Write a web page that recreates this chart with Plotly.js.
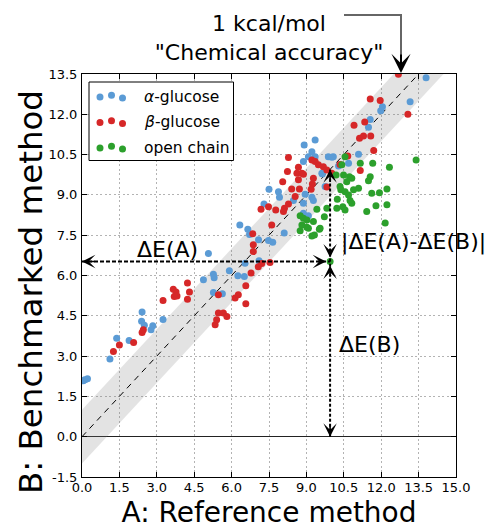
<!DOCTYPE html>
<html>
<head>
<meta charset="utf-8">
<script src="https://cdn.plot.ly/plotly-3.0.1.min.js"></script>
<style>html,body{margin:0;padding:0;background:#fff;}#chart{width:488px;height:529px;}</style>
</head>
<body>
<div id="chart"></div>
<script>
// ---- data (kcal/mol) ----
const alphaX = [0.05,0.12,0.22,1.12,1.39,1.89,2.41,2.39,2.50,2.77,2.84,3.25,4.87,5.07,5.27,5.30,5.27,5.63,5.91,6.25,6.51,6.54,7.10,6.33,6.65,6.72,7.08,7.48,7.65,7.30,7.50,7.88,7.92,8.48,8.88,8.95,9.22,9.28,8.88,8.11,9.08,8.91,9.35,9.22,8.88,9.08,9.35,9.88,10.08,9.64,9.75,9.62,10.29,10.69,11.09,10.02,11.49,11.56,11.98,12.05,13.16,13.80];
const alphaY = [2.08,2.12,2.16,2.89,3.66,3.58,4.64,4.30,4.15,3.98,4.13,4.36,5.84,6.82,6.05,5.92,5.37,5.32,6.18,5.99,5.96,6.46,6.55,7.88,7.72,7.53,7.33,7.30,7.24,8.66,9.21,9.12,8.91,8.79,8.69,9.02,8.91,8.79,8.32,7.58,8.22,10.86,11.04,10.61,10.24,10.42,10.42,10.42,10.42,9.78,9.31,9.81,10.08,10.18,10.51,10.40,11.52,11.81,12.13,12.28,12.47,13.36];

const betaX = [1.26,1.50,2.07,2.41,2.46,3.25,3.66,3.77,3.70,3.81,4.23,4.31,4.23,5.34,5.40,5.47,5.67,5.81,5.47,6.14,6.27,6.57,6.57,6.78,7.07,7.21,7.54,6.87,6.85,6.87,7.18,7.48,7.77,8.12,8.28,8.55,8.41,8.72,8.05,8.68,8.24,8.62,8.82,8.88,8.68,8.28,9.22,9.35,9.48,9.68,9.82,10.02,9.28,9.24,9.19,9.82,7.61,8.08,10.35,10.66,11.16,11.70,11.13,11.29,11.58,10.91,11.34,11.56,11.96,13.07,12.69];
const betaY = [3.17,3.41,3.51,3.88,3.98,5.07,5.49,5.39,5.22,5.24,5.72,5.39,5.12,4.17,4.35,4.60,4.60,4.47,5.28,5.16,5.28,4.95,5.62,6.09,6.33,6.45,6.48,6.89,7.55,7.14,8.47,8.56,8.44,8.50,8.66,8.94,9.22,9.22,9.49,9.56,9.87,9.81,9.81,9.77,10.03,10.39,10.30,10.24,10.12,10.05,9.93,9.81,9.62,9.41,9.21,9.29,7.88,8.38,10.13,10.45,9.91,10.65,11.11,11.19,11.19,11.59,11.71,12.57,12.51,12.00,13.49];

const openX = [9.95,8.75,8.88,9.02,8.82,9.02,8.75,9.08,9.52,9.32,9.22,9.42,9.72,9.82,9.28,9.55,10.22,10.24,10.55,10.75,10.82,10.69,10.38,10.55,10.89,11.09,10.49,10.73,10.82,10.62,10.19,10.42,10.55,10.35,10.46,11.16,11.66,12.33,13.40,11.56,11.49,11.62,11.93,12.23,11.79,11.42,12.23,12.16];
const openY = [6.52,8.22,8.13,8.07,7.88,7.80,7.67,7.76,7.72,7.51,7.47,8.47,8.19,8.50,8.01,7.76,8.50,8.84,8.44,8.79,8.69,9.00,9.19,9.12,9.19,9.25,9.74,9.68,9.62,9.49,9.74,10.12,10.42,9.31,8.56,10.18,10.18,10.03,10.30,9.68,9.53,9.06,9.08,9.22,8.60,8.38,8.63,7.95];
const highlight = 0;               // open-chain point used for the ΔE illustration

const seriesNames = ['<i>α</i>-glucose', '<i>β</i>-glucose', 'open chain'];
const tickVals = [0,1.5,3,4.5,6,7.5,9,10.5,12,13.5,15];
const xTickText = ['0.0','1.5','3.0','4.5','6.0','7.5','9.0','10.5','12.0','13.5','15.0'];
const yTickVals = [-1.5,0,1.5,3,4.5,6,7.5,9,10.5,12,13.5];
const yTickText = ['-1.5','0.0','1.5','3.0','4.5','6.0','7.5','9.0','10.5','12.0','13.5'];
const chemAcc = 1;                 // kcal/mol band half-width

// ---- styles ----
const colors = ['#5b9bd5', '#d62728', '#2ca02c'];
const FONT = 'DejaVu Sans, sans-serif';
const xRange = [0, 15], yRange = [-1.5, 13.5];

const band = {
  x: [xRange[0], xRange[1], xRange[1], xRange[0]],
  y: [xRange[0] - chemAcc, xRange[1] - chemAcc, xRange[1] + chemAcc, xRange[0] + chemAcc],
  type: 'scatter', mode: 'lines', fill: 'toself',
  fillcolor: 'rgba(128,128,128,0.22)', line: {width: 0}, hoverinfo: 'skip'
};
const diag = {
  x: [xRange[0], xRange[1]], y: [xRange[0], xRange[1]],
  type: 'scatter', mode: 'lines', line: {color: '#000', width: 1, dash: '6px,5px'}, hoverinfo: 'skip'
};
function pts(x, y, c) {
  return {x: x, y: y, type: 'scatter', mode: 'markers', marker: {color: c, size: 7, line: {width: 0}}};
}
const traces = [band, diag, pts(alphaX, alphaY, colors[0]), pts(betaX, betaY, colors[1]), pts(openX, openY, colors[2])];

const hx = openX[highlight], hy = openY[highlight];

// paper coordinate helpers for decorations (plot area 82..456 x, 74..477 y)
const L = 82, R = 456, T = 74, B = 477;
const px = v => (v - L) / (R - L);
const py = v => (B - v) / (B - T);

const shapes = [
  {type: 'line', xref: 'x', yref: 'y', x0: xRange[0], x1: hx, y0: hy, y1: hy, line: {color: '#000', width: 2, dash: '4px,2px'}},
  {type: 'line', xref: 'x', yref: 'y', x0: hx, x1: hx, y0: 0, y1: hy, line: {color: '#000', width: 2, dash: '3px,2px'}},
  {type: 'line', xref: 'x', yref: 'y', x0: hx, x1: hx, y0: hy, y1: hx, line: {color: '#000', width: 2, dash: '3px,2px'}},
  {type: 'path', xref: 'paper', yref: 'paper', path: `M ${px(344)} ${py(15)} L ${px(401)} ${py(15)} L ${px(401)} ${py(55)}`,
   line: {color: '#666', width: 2}},
  {type: 'rect', xref: 'paper', yref: 'paper', x0: px(89), x1: px(233.5), y0: py(82), y1: py(160.5),
   line: {color: '#000', width: 1}, fillcolor: '#fff', layer: 'above'}
];
const rowsY = [96.5, 122, 147.5];
const dotDX = [100, 111.5, 122.5], dotDY = [0.6, -1.2, 1.4];
rowsY.forEach((ry, i) => {
  dotDX.forEach((dx, j) => {
    shapes.push({type: 'circle', xref: 'paper', yref: 'paper', xsizemode: 'pixel', ysizemode: 'pixel',
      xanchor: px(dx), yanchor: py(ry + dotDY[j]), x0: -3.5, x1: 3.5, y0: -3.5, y1: 3.5,
      fillcolor: colors[i], line: {width: 0}, layer: 'above'});
  });
});

function head(x, y, axp, ayp, standoff) {
  return {x: x, y: y, xref: 'x', yref: 'y', ax: axp, ay: ayp, axref: 'pixel', ayref: 'pixel',
    showarrow: true, arrowhead: 3, arrowsize: 1.4, arrowwidth: 1.6, arrowcolor: '#000', standoff: standoff || 0, text: ''};
}
const annotations = [
  head(xRange[0], hy, 14, 0, 0), head(hx, hy, -14, 0, 4),
  head(hx, 0, 0, -14, 0), head(hx, hy, 0, 14, 4),
  head(hx, hx, 0, 14, 0), head(hx, hy, 0, -14, 4),
  {x: px(401), y: py(73), xref: 'paper', yref: 'paper', ax: 0, ay: -20, axref: 'pixel', ayref: 'pixel',
   showarrow: true, arrowhead: 3, arrowsize: 1.6, arrowwidth: 2, arrowcolor: '#000', text: ''},
  {x: 3.41, y: 6.98, xref: 'x', yref: 'y', text: 'ΔE(A)', showarrow: false, font: {size: 22, color: '#000'}},
  {x: 10.31, y: 7.26, xref: 'x', yref: 'y', text: '|ΔE(A)-ΔE(B)|', xanchor: 'left', showarrow: false, font: {size: 22, color: '#000'}},
  {x: 10.24, y: 3.42, xref: 'x', yref: 'y', text: 'ΔE(B)', xanchor: 'left', showarrow: false, font: {size: 22, color: '#000'}},
  // y-axis title (drawn as annotation so it can sit where the reference puts it)
  {x: px(31), y: py(292), xref: 'paper', yref: 'paper', xanchor: 'center', yanchor: 'middle', textangle: -90,
   text: 'B: Benchmarked method', showarrow: false, font: {size: 32.5, color: '#000', family: FONT}}
];
rowsY.forEach((ry, i) => {
  annotations.push({x: px(141.5), y: py(ry), xref: 'paper', yref: 'paper', xanchor: 'left', yanchor: 'middle',
    text: seriesNames[i], showarrow: false, font: {size: 15.5, color: '#000'}});
});

const axisCommon = {
  showline: true, linecolor: '#000', linewidth: 1, mirror: 'ticks',
  ticks: 'inside', ticklen: 5, tickwidth: 1, tickcolor: '#000',
  showgrid: true, gridcolor: '#b3b3b3', gridwidth: 1, griddash: '2px,2.5px',
  tickfont: {size: 13, color: '#000', family: FONT}, fixedrange: true
};

const layout = {
  width: 488, height: 529,
  margin: {l: L, r: 488 - R, t: T, b: 529 - B},
  paper_bgcolor: '#fff', plot_bgcolor: '#fff',
  font: {family: FONT, color: '#000'},
  showlegend: false,
  title: {text: '1 kcal/mol<br>"Chemical accuracy"', x: ((L + R) / 2) / 488, xref: 'container', xanchor: 'center',
          y: 1 - 31 / 529, yref: 'container', yanchor: 'middle', font: {size: 22, color: '#000', family: FONT}},
  xaxis: Object.assign({}, axisCommon, {range: xRange, tickvals: tickVals, ticktext: xTickText, zeroline: false,
    ticklabelstandoff: -2,
    title: {text: 'A: Reference method', font: {size: 28, color: '#000', family: FONT}, standoff: 10}}),
  yaxis: Object.assign({}, axisCommon, {range: yRange, tickvals: yTickVals, ticktext: yTickText,
    ticklabelstandoff: 1,
    zeroline: true, zerolinecolor: '#222', zerolinewidth: 1.5}),
  shapes: shapes, annotations: annotations
};

Plotly.newPlot('chart', traces, layout, {displayModeBar: false, staticPlot: true});
</script>
</body>
</html>
